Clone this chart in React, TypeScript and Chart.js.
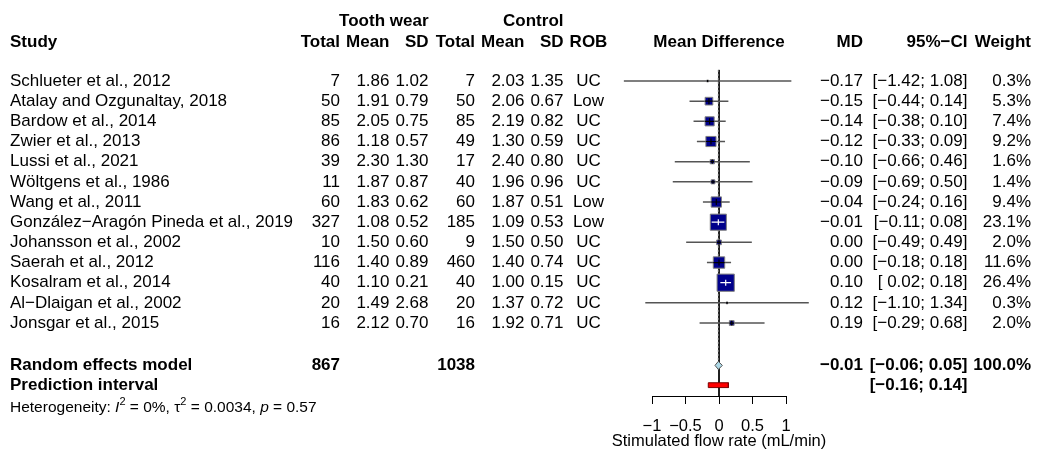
import React, { useEffect, useRef } from "react";
import { Chart, registerables } from "chart.js";
Chart.register(...registerables);

// ---------------- data ----------------
const studies = [
  "Schlueter et al., 2012",
  "Atalay and Ozgunaltay, 2018",
  "Bardow et al., 2014",
  "Zwier et al., 2013",
  "Lussi et al., 2021",
  "Wöltgens et al., 1986",
  "Wang et al., 2011",
  "González−Aragón Pineda et al., 2019",
  "Johansson et al., 2002",
  "Saerah et al., 2012",
  "Kosalram et al., 2014",
  "Al−Dlaigan et al., 2002",
  "Jonsgar et al., 2015",
];
const teTotal = [7, 50, 85, 86, 39, 11, 60, 327, 10, 116, 40, 20, 16];
const teMean = [1.86, 1.91, 2.05, 1.18, 2.3, 1.87, 1.83, 1.08, 1.5, 1.4, 1.1, 1.49, 2.12];
const teSD = [1.02, 0.79, 0.75, 0.57, 1.3, 0.87, 0.62, 0.52, 0.6, 0.89, 0.21, 2.68, 0.7];
const ctTotal = [7, 50, 85, 49, 17, 40, 60, 185, 9, 460, 40, 20, 16];
const ctMean = [2.03, 2.06, 2.19, 1.3, 2.4, 1.96, 1.87, 1.09, 1.5, 1.4, 1.0, 1.37, 1.92];
const ctSD = [1.35, 0.67, 0.82, 0.59, 0.8, 0.96, 0.51, 0.53, 0.5, 0.74, 0.15, 0.72, 0.71];
const rob = ["UC", "Low", "UC", "UC", "UC", "UC", "Low", "Low", "UC", "UC", "UC", "UC", "UC"];
const md = [-0.17, -0.15, -0.14, -0.12, -0.1, -0.09, -0.04, -0.01, 0.0, 0.0, 0.1, 0.12, 0.19];
const ciLow = [-1.42, -0.44, -0.38, -0.33, -0.66, -0.69, -0.24, -0.11, -0.49, -0.18, 0.02, -1.1, -0.29];
const ciHigh = [1.08, 0.14, 0.1, 0.09, 0.46, 0.5, 0.16, 0.08, 0.49, 0.18, 0.18, 1.34, 0.68];
const weight = [0.3, 5.3, 7.4, 9.2, 1.6, 1.4, 9.4, 23.1, 2.0, 11.6, 26.4, 0.3, 2.0];

const reMD = -0.01;
const reLow = -0.06;
const reHigh = 0.05;
const predLow = -0.16;
const predHigh = 0.14;
const sumTeTotal = 867;
const sumCtTotal = 1038;
const xTicks = [-1, -0.5, 0, 0.5, 1];
const hetI2 = "0%";
const hetTau2 = "0.0034";
const hetP = "0.57";
const xTitle = "Stimulated flow rate (mL/min)";

// ---------------- layout ----------------
const W = 1038;
const H = 455;
const FONT = '"Liberation Sans", Arial, Helvetica, sans-serif';
const FS = 17;
const AXIS_FS = 16.5;
const ROW0_PX = 81; // pixel of the first study row
const ROW_H = 20.17; // pixels per row
const ROW_RE = 14.1;
const ROW_PRED = 15.08;
const ROW_HET = 16.2;
const ROW_GROUP = -2.95;
const ROW_HEAD = -1.9;
const LINE_TOP = -0.55;
const SQ_SCALE = 3.35;
const TITLE_Y = 441.5;

const C = {
  study: 10,
  teTotal: 340,
  teMean: 389.5,
  teSD: 428.5,
  ctTotal: 475,
  ctMean: 524.5,
  ctSD: 563.5,
  rob: 588.5,
  md: 863,
  ci: 967.5,
  weight: 1031,
};

const MINUS = "\u2212";
const fmt = (v: number, d = 2) => (v < 0 ? MINUS : "") + Math.abs(v).toFixed(d);
const fmtCI = (lo: number, hi: number) => "[" + (lo >= 0 ? " " : "") + fmt(lo) + "; " + fmt(hi) + "]";
const side = (w: number) => SQ_SCALE * Math.sqrt(w);

const forestPlugin = {
  id: "forestText",
  afterLayout(chart: any) {
    // anchor the row scale so that row r sits at ROW0_PX + r * ROW_H
    const ys = chart.scales.y;
    ys.min = (ys.top - ROW0_PX) / ROW_H;
    ys.max = (ys.bottom - ROW0_PX) / ROW_H;
    ys.configure();
  },
  afterDatasetsDraw(chart: any) {
    const { ctx, scales } = chart;
    const xs = scales.x;
    const ys = scales.y;
    ctx.save();
    for (let i = 0; i < md.length; i++) {
      const cx = xs.getPixelForValue(md[i]);
      const cy = ys.getPixelForValue(i);
      const half = side(weight[i]) / 2;
      const pl = xs.getPixelForValue(ciLow[i]);
      const ph = xs.getPixelForValue(ciHigh[i]);
      const inside = pl >= cx - half && ph <= cx + half;
      ctx.strokeStyle = inside ? "white" : "black";
      ctx.lineWidth = 1.2;
      ctx.beginPath();
      ctx.moveTo(Math.max(pl, cx - half), cy);
      ctx.lineTo(Math.min(ph, cx + half), cy);
      const vh = Math.min(half, 3);
      ctx.moveTo(cx, cy - vh);
      ctx.lineTo(cx, cy + vh);
      ctx.stroke();
    }
    ctx.restore();
  },
  afterDraw(chart: any) {
    const { ctx, scales } = chart;
    const ys = scales.y;
    const xs = scales.x;
    const yp = (r: number) => ys.getPixelForValue(r);
    ctx.save();
    ctx.fillStyle = "black";
    ctx.textBaseline = "middle";
    const put = (t: string, x: number, r: number, align: CanvasTextAlign, bold = false, size = FS) => {
      ctx.font = (bold ? "bold " : "") + size + "px " + FONT;
      ctx.textAlign = align;
      ctx.fillText(t, x, yp(r));
    };
    put("Tooth wear", C.teSD, ROW_GROUP, "right", true);
    put("Control", C.ctSD, ROW_GROUP, "right", true);
    put("Study", C.study, ROW_HEAD, "left", true);
    put("Total", C.teTotal, ROW_HEAD, "right", true);
    put("Mean", C.teMean, ROW_HEAD, "right", true);
    put("SD", C.teSD, ROW_HEAD, "right", true);
    put("Total", C.ctTotal, ROW_HEAD, "right", true);
    put("Mean", C.ctMean, ROW_HEAD, "right", true);
    put("SD", C.ctSD, ROW_HEAD, "right", true);
    put("ROB", C.rob, ROW_HEAD, "center", true);
    put("Mean Difference", xs.getPixelForValue(0), ROW_HEAD, "center", true);
    put("MD", C.md, ROW_HEAD, "right", true);
    put("95%" + MINUS + "CI", C.ci, ROW_HEAD, "right", true);
    put("Weight", C.weight, ROW_HEAD, "right", true);
    for (let i = 0; i < studies.length; i++) {
      put(studies[i], C.study, i, "left");
      put(String(teTotal[i]), C.teTotal, i, "right");
      put(teMean[i].toFixed(2), C.teMean, i, "right");
      put(teSD[i].toFixed(2), C.teSD, i, "right");
      put(String(ctTotal[i]), C.ctTotal, i, "right");
      put(ctMean[i].toFixed(2), C.ctMean, i, "right");
      put(ctSD[i].toFixed(2), C.ctSD, i, "right");
      put(rob[i], C.rob, i, "center");
      put(fmt(md[i]), C.md, i, "right");
      put(fmtCI(ciLow[i], ciHigh[i]), C.ci, i, "right");
      put(weight[i].toFixed(1) + "%", C.weight, i, "right");
    }
    put("Random effects model", C.study, ROW_RE, "left", true);
    put(String(sumTeTotal), C.teTotal, ROW_RE, "right", true);
    put(String(sumCtTotal), C.ctTotal, ROW_RE, "right", true);
    put(fmt(reMD), C.md, ROW_RE, "right", true);
    put(fmtCI(reLow, reHigh), C.ci, ROW_RE, "right", true);
    put("100.0%", C.weight, ROW_RE, "right", true);
    put("Prediction interval", C.study, ROW_PRED, "left", true);
    put(fmtCI(predLow, predHigh), C.ci, ROW_PRED, "right", true);
    // axis title (drawn here so it is not squeezed to the axis width)
    ctx.font = AXIS_FS + "px " + FONT;
    ctx.textAlign = "center";
    ctx.fillText(xTitle, xs.getPixelForValue(0), TITLE_Y);
    // heterogeneity
    const hs = 15.5;
    const sup = 11;
    let x = C.study;
    const y = yp(ROW_HET);
    ctx.textAlign = "left";
    const seg = (t: string, style: string, size: number, dy = 0) => {
      ctx.font = style + size + "px " + FONT;
      ctx.fillText(t, x, y + dy);
      x += ctx.measureText(t).width;
    };
    seg("Heterogeneity: ", "", hs);
    seg("I", "italic ", hs);
    seg("2", "", sup, -6);
    seg(" = " + hetI2 + ", ", "", hs);
    seg("\u03C4", "", hs);
    seg("2", "", sup, -6);
    seg(" = " + hetTau2 + ", ", "", hs);
    seg("p", "italic ", hs);
    seg(" = " + hetP, "", hs);
    ctx.restore();
  },
};

export default function App() {
  const ref = useRef<HTMLCanvasElement | null>(null);
  useEffect(() => {
    if (!ref.current) return;
    const ciData: any[] = [];
    for (let i = 0; i < md.length; i++) {
      ciData.push({ x: ciLow[i], y: i }, { x: ciHigh[i], y: i }, { x: NaN, y: NaN });
    }
    const sq = md.map((v, i) => ({ x: v, y: i }));
    const dh = 0.2;
    const ph = 0.12;
    const chart = new Chart(ref.current, {
      type: "line",
      data: {
        datasets: [
          {
            label: "zero",
            data: [{ x: 0, y: LINE_TOP }, { x: 0, y: 40 }],
            borderColor: "black",
            borderWidth: 1,
            pointRadius: 0,
            order: 10,
          },
          {
            label: "re",
            data: [{ x: reMD, y: LINE_TOP }, { x: reMD, y: ROW_RE - dh }],
            borderColor: "#777",
            borderWidth: 1,
            borderDash: [2, 2],
            pointRadius: 0,
            clip: false,
            order: 9,
          },
          {
            label: "ci",
            data: ciData,
            borderColor: "#555",
            borderWidth: 1.5,
            pointRadius: 0,
            spanGaps: false,
            clip: false,
            order: 5,
          },
          {
            label: "squares",
            data: sq,
            showLine: false,
            pointStyle: "rect",
            pointRadius: weight.map((w) => side(w) / Math.SQRT2),
            pointBackgroundColor: "#00008B",
            pointBorderColor: "#808080",
            pointBorderWidth: 1,
            clip: false,
            order: 4,
          },
          {
            label: "diamond",
            data: [
              { x: reLow, y: ROW_RE },
              { x: reMD, y: ROW_RE - dh },
              { x: reHigh, y: ROW_RE },
              { x: reMD, y: ROW_RE + dh },
              { x: reLow, y: ROW_RE },
            ],
            borderColor: "#555",
            borderWidth: 1,
            backgroundColor: "#ADD8E6",
            fill: "shape",
            pointRadius: 0,
            tension: 0,
            clip: false,
            order: 3,
          },
          {
            label: "prediction",
            data: [
              { x: predLow, y: ROW_PRED - ph },
              { x: predHigh, y: ROW_PRED - ph },
              { x: predHigh, y: ROW_PRED + ph },
              { x: predLow, y: ROW_PRED + ph },
              { x: predLow, y: ROW_PRED - ph },
            ],
            borderColor: "#7a0000",
            borderWidth: 1,
            backgroundColor: "#FF0000",
            fill: "shape",
            pointRadius: 0,
            tension: 0,
            clip: false,
            order: 3,
          },
        ] as any,
      },
      options: {
        animation: false,
        responsive: false,
        maintainAspectRatio: false,
        layout: { padding: { left: 652, right: W - 786, top: 0, bottom: 6 } },
        plugins: { legend: { display: false }, tooltip: { enabled: false } },
        scales: {
          x: {
            type: "linear",
            min: -1,
            max: 1,
            afterBuildTicks: (axis: any) => {
              axis.ticks = xTicks.map((v) => ({ value: v }));
            },
            grid: { drawOnChartArea: false, drawTicks: true, tickLength: 8, color: "black", tickColor: "black" },
            border: { display: true, color: "black", width: 1 },
            ticks: {
              color: "black",
              padding: 14.25,
              maxRotation: 0,
              autoSkip: false,
              font: { family: FONT, size: AXIS_FS, lineHeight: 1 },
              callback: (v: any) => fmt(Number(v), Number(v) % 1 === 0 ? 0 : 1),
            },
            title: { display: false },
          },
          y: { type: "linear", reverse: true, min: -4, max: 15.6, display: false },
        },
      },
      plugins: [forestPlugin],
    } as any);
    return () => chart.destroy();
  }, []);
  return (
    <div style={{ position: "fixed", left: 0, top: 0, width: W, height: H, background: "white" }}>
      <canvas ref={ref} width={W} height={H} style={{ width: W, height: H, display: "block" }} />
    </div>
  );
}
